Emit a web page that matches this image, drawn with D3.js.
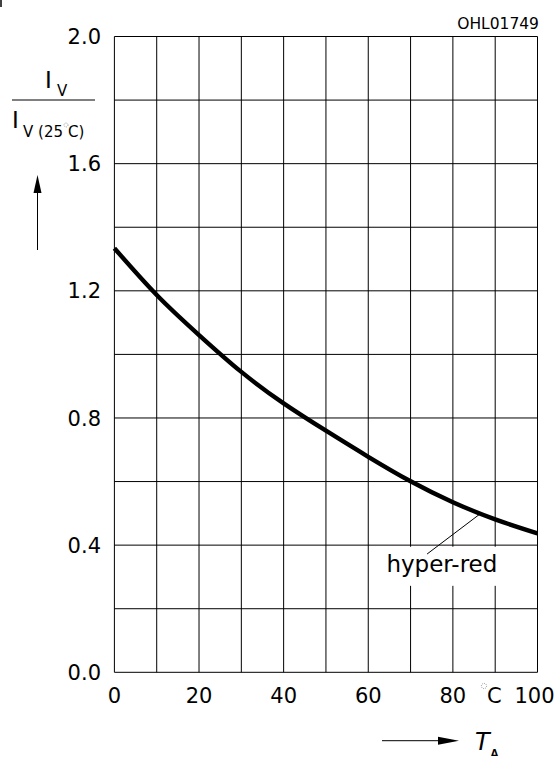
<!DOCTYPE html>
<html>
<head>
<meta charset="utf-8">
<script src="https://cdn.jsdelivr.net/npm/d3@7/dist/d3.min.js"></script>
<style>
  html, body { margin: 0; padding: 0; background: #fff; }
  svg { display: block; }
  text { font-family: "DejaVu Sans", sans-serif; fill: #000; }
</style>
</head>
<body>
<svg id="chart" width="558" height="758"></svg>
<script>
// ---- data ----
const temps = [0, 10, 20, 30, 40, 50, 60, 70, 80, 90, 100];
const ratio = [1.334, 1.187, 1.061, 0.945, 0.846, 0.760, 0.678, 0.601, 0.535, 0.481, 0.437];
const xTickLabels = [0, 20, 40, 60, 80, 100];
const yTickLabels = [0.0, 0.4, 0.8, 1.2, 1.6, 2.0];
const xGrid = [0, 10, 20, 30, 40, 50, 60, 70, 80, 90, 100];
const yGrid = [0, 0.2, 0.4, 0.6, 0.8, 1.0, 1.2, 1.4, 1.6, 1.8, 2.0];
const seriesName = "hyper-red";
const drawingId = "OHL01749";

// ---- layout ----
const svg = d3.select("#chart");
const plotL = 114.4, plotR = 537.5, plotT = 36.5, plotB = 672.3;
const x = d3.scaleLinear().domain([0, 100]).range([plotL, plotR]);
const y = d3.scaleLinear().domain([0, 2.0]).range([plotB, plotT]);

// grid
const g = svg.append("g");
g.selectAll(".vg").data(xGrid).enter().append("line")
  .attr("x1", d => x(d)).attr("x2", d => x(d))
  .attr("y1", y(0)).attr("y2", y(2))
  .attr("stroke", "#000").attr("stroke-width", 1);
g.selectAll(".hg").data(yGrid).enter().append("line")
  .attr("x1", x(0)).attr("x2", x(100))
  .attr("y1", d => y(d)).attr("y2", d => y(d))
  .attr("stroke", "#000").attr("stroke-width", 1);

// white box behind the series label (breaks grid lines)
svg.append("rect")
  .attr("x", x(63.2)).attr("y", y(0.395))
  .attr("width", x(91.8) - x(63.2)).attr("height", y(0.272) - y(0.395))
  .attr("fill", "#fff");

// curve
const line = d3.line()
  .x((d, i) => x(temps[i]))
  .y(d => y(d))
  .curve(d3.curveNatural);
svg.append("path")
  .datum(ratio)
  .attr("d", line)
  .attr("fill", "none")
  .attr("stroke", "#000")
  .attr("stroke-width", 4.4)
  .attr("stroke-linecap", "butt");

// series label and leader line
svg.append("line")
  .attr("x1", x(73.9)).attr("y1", y(0.372))
  .attr("x2", x(86.4)).attr("y2", y(0.498))
  .attr("stroke", "#000").attr("stroke-width", 1);
svg.append("text")
  .attr("x", x(77.4)).attr("y", y(0.316))
  .attr("text-anchor", "middle")
  .attr("font-size", 23)
  .text(seriesName);

// y tick labels
svg.selectAll(".yt").data(yTickLabels).enter().append("text")
  .attr("x", 101)
  .attr("y", d => y(d))
  .attr("dy", "0.36em")
  .attr("text-anchor", "end")
  .attr("font-size", 21)
  .text(d => d.toFixed(1));

// x tick labels
svg.selectAll(".xt").data(xTickLabels).enter().append("text")
  .attr("x", d => x(d) - (d === 100 ? 3 : 0))
  .attr("y", 703)
  .attr("text-anchor", "middle")
  .attr("font-size", 21)
  .text(d => d);

// unit °C between 80 and 100
svg.append("circle")
  .attr("cx", 484).attr("cy", 686).attr("r", 2.6)
  .attr("fill", "none").attr("stroke", "#888").attr("stroke-width", 0.9)
  .attr("stroke-dasharray", "1,1");
svg.append("text")
  .attr("x", 487).attr("y", 703)
  .attr("font-size", 21)
  .text("C");

// drawing id
svg.append("text")
  .attr("x", 539).attr("y", 29)
  .attr("text-anchor", "end")
  .attr("font-size", 15.5)
  .text(drawingId);

// y axis label: I_V / I_V(25°C)
const yl = svg.append("g");
yl.append("text")
  .attr("x", 45).attr("y", 88)
  .attr("font-family", "Liberation Serif, serif")
  .attr("font-size", 23)
  .text("I");
yl.append("text")
  .attr("x", 57).attr("y", 96)
  .attr("font-size", 15)
  .text("V");
yl.append("line")
  .attr("x1", 12).attr("x2", 95).attr("y1", 100).attr("y2", 100)
  .attr("stroke", "#000").attr("stroke-width", 1);
yl.append("text")
  .attr("x", 12).attr("y", 128)
  .attr("font-family", "Liberation Serif, serif")
  .attr("font-size", 23)
  .text("I");
yl.append("text")
  .attr("x", 23).attr("y", 137)
  .attr("font-size", 15)
  .text("V (25");
yl.append("circle")
  .attr("cx", 66).attr("cy", 125).attr("r", 2)
  .attr("fill", "none").attr("stroke", "#888").attr("stroke-width", 0.8)
  .attr("stroke-dasharray", "1,1");
yl.append("text")
  .attr("x", 68).attr("y", 137)
  .attr("font-size", 15)
  .text("C)");

// y arrow
svg.append("line")
  .attr("x1", 37.5).attr("x2", 37.5).attr("y1", 250).attr("y2", 190)
  .attr("stroke", "#000").attr("stroke-width", 1);
svg.append("path")
  .attr("d", "M37.5,175 L33.5,193 L41.5,193 Z")
  .attr("fill", "#000");

// x arrow
svg.append("line")
  .attr("x1", 382).attr("x2", 445).attr("y1", 740.7).attr("y2", 740.7)
  .attr("stroke", "#000").attr("stroke-width", 1);
svg.append("path")
  .attr("d", "M459,740.7 L438,736.7 L438,744.7 Z")
  .attr("fill", "#000");

// T_A
svg.append("text")
  .attr("x", 475).attr("y", 750)
  .attr("font-size", 24)
  .attr("font-style", "italic")
  .text("T");
svg.append("text")
  .attr("x", 491).attr("y", 756)
  .attr("font-size", 9)
  .attr("font-weight", "bold")
  .text("Δ");

// small mark top-left
svg.append("line")
  .attr("x1", 1).attr("x2", 1).attr("y1", 0).attr("y2", 7)
  .attr("stroke", "#000").attr("stroke-width", 1.5);
</script>
</body>
</html>
